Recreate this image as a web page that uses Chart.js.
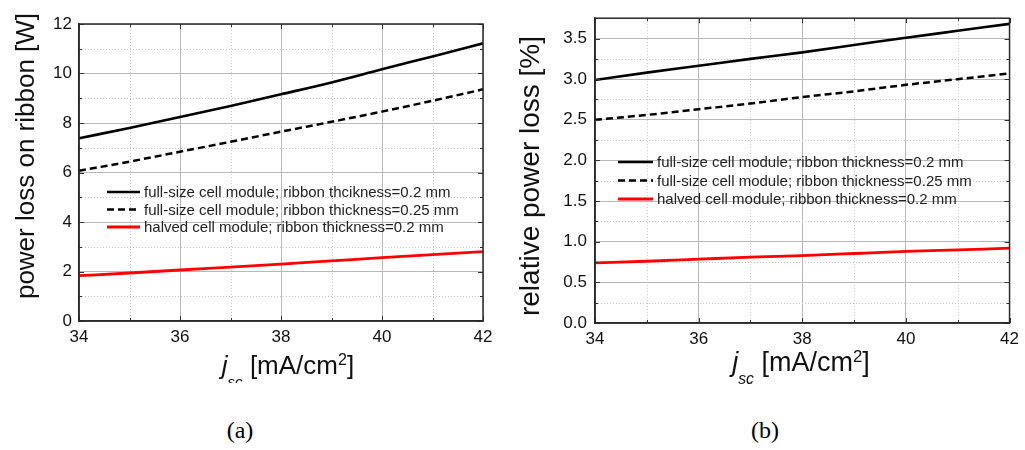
<!DOCTYPE html>
<html>
<head>
<meta charset="utf-8">
<script src="https://cdn.jsdelivr.net/npm/chart.js@4.4.0/dist/chart.umd.min.js"></script>
<style>
  html, body { margin: 0; padding: 0; background: #fff; }
  body { width: 1025px; height: 450px; position: relative; overflow: hidden; font-family: "Liberation Sans", Arial, sans-serif; }
  canvas { position: absolute; top: 0; }
  #cA { left: 0; }
  #cB { left: 500px; }
  .ytitle { position: absolute; width: 400px; text-align: center; white-space: nowrap; color: #111; transform: rotate(-90deg); }
  .xtitle { position: absolute; width: 300px; text-align: center; white-space: nowrap; color: #111; }
  .xtitle sub { font-size: 58%; line-height: 0; vertical-align: -0.85em; }
  .xtitle sup { font-size: 62%; line-height: 0; vertical-align: 0.55em; }
  .cap { position: absolute; width: 100px; text-align: center; font-family: "Liberation Serif", "Times New Roman", serif; color: #000; }
</style>
</head>
<body>
<canvas id="cA" width="500" height="390"></canvas>
<canvas id="cB" width="525" height="390"></canvas>

<div class="ytitle" style="left:-175px; top:141px; height:30px; line-height:30px; font-size:26px;">power loss on ribbon [W]</div>
<div class="ytitle" style="left:330px; top:161px; height:30px; line-height:30px; font-size:28px;">relative power loss [%]</div>

<div style="position:absolute; left:138px; top:340px; width:300px; height:43px; overflow:hidden;">
  <div class="xtitle" style="left:0; top:12px; font-size:26px; line-height:26px;"><i>j</i><sub><i>sc</i></sub> [mA/cm<sup>2</sup>]</div>
</div>
<div class="xtitle" style="left:651px; top:349px; font-size:27px; line-height:27px;"><i>j</i><sub><i>sc</i></sub> [mA/cm<sup>2</sup>]</div>

<div class="cap" style="left:190px; top:418px; font-size:24px; line-height:24px;">(a)</div>
<div class="cap" style="left:715px; top:418px; font-size:24px; line-height:24px;">(b)</div>

<script>
// ---- data ----
const jsc = [34, 35, 36, 37, 38, 39, 40, 41, 42];

const lossFull02   = [7.38, 7.80, 8.24, 8.69, 9.16, 9.64, 10.17, 10.69, 11.22];
const lossFull025  = [6.07, 6.44, 6.84, 7.24, 7.65, 8.05, 8.46, 8.90, 9.36];
const lossHalved02 = [1.83, 1.94, 2.06, 2.18, 2.30, 2.43, 2.56, 2.68, 2.80];

const relFull02    = [2.99, 3.08, 3.165, 3.25, 3.33, 3.42, 3.51, 3.595, 3.68];
const relFull025   = [2.50, 2.56, 2.63, 2.70, 2.78, 2.85, 2.93, 3.00, 3.07];
const relHalved02  = [0.74, 0.76, 0.785, 0.81, 0.83, 0.855, 0.88, 0.90, 0.92];

const labelsA = [
  'full-size cell module; ribbon thcikness=0.2 mm',
  'full-size cell module; ribbon thickness=0.25 mm',
  'halved cell module; ribbon thickness=0.2 mm'
];
const labelsB = [
  'full-size cell module; ribbon thickness=0.2 mm',
  'full-size cell module; ribbon thickness=0.25 mm',
  'halved cell module; ribbon thickness=0.2 mm'
];

const xTicksMajor = [34, 36, 38, 40, 42];
const yTicksMajorA = [0, 2, 4, 6, 8, 10, 12];
const yTicksMajorB = [0.0, 0.5, 1.0, 1.5, 2.0, 2.5, 3.0, 3.5];

// ---- helpers ----
const pts = (arr) => jsc.map((x, i) => ({ x: x, y: arr[i] }));
const near = (v, list) => list.some(m => Math.abs(m - v) < 1e-6);
const FONT = '"Liberation Sans", Arial, sans-serif';

const framePlugin = {
  id: 'frame',
  beforeDatasetsDraw(chart, args, opts) {
    // dotted minor grid
    const { ctx, chartArea: a, scales } = chart;
    ctx.save();
    ctx.strokeStyle = '#c4c4c4';
    ctx.lineWidth = 1;
    ctx.setLineDash([1, 2]);
    ctx.beginPath();
    scales.x.ticks.forEach(t => {
      if (near(t.value, opts.xMajor)) return;
      const px = Math.round(scales.x.getPixelForValue(t.value)) + 0.5;
      ctx.moveTo(px, a.top); ctx.lineTo(px, a.bottom);
    });
    scales.y.ticks.forEach(t => {
      if (near(t.value, opts.yMajor)) return;
      const py = Math.round(scales.y.getPixelForValue(t.value)) + 0.5;
      ctx.moveTo(a.left, py); ctx.lineTo(a.right, py);
    });
    ctx.stroke();
    ctx.restore();
  },
  afterDatasetsDraw(chart, args, opts) {
    const { ctx, chartArea: a, scales } = chart;
    ctx.save();
    ctx.strokeStyle = '#333';
    ctx.lineWidth = 1;
    ctx.beginPath();
    scales.x.ticks.forEach(t => {
      const px = Math.round(scales.x.getPixelForValue(t.value)) + 0.5;
      const len = near(t.value, opts.xMajor) ? 5 : 3;
      ctx.moveTo(px, a.bottom); ctx.lineTo(px, a.bottom - len);
      ctx.moveTo(px, a.top); ctx.lineTo(px, a.top + len);
    });
    scales.y.ticks.forEach(t => {
      const py = Math.round(scales.y.getPixelForValue(t.value)) + 0.5;
      const len = near(t.value, opts.yMajor) ? 5 : 3;
      ctx.moveTo(a.left, py); ctx.lineTo(a.left + len, py);
      ctx.moveTo(a.right, py); ctx.lineTo(a.right - len, py);
    });
    ctx.stroke();
    ctx.lineWidth = 1.5;
    ctx.strokeStyle = '#2a2a2a';
    ctx.strokeRect(a.left, a.top, a.width, a.height);
    ctx.restore();
  },
  afterDraw(chart, args, opts) {
    const { ctx } = chart;
    const L = opts.legend;
    ctx.save();
    ctx.font = L.fontSize + 'px ' + FONT;
    ctx.textBaseline = 'middle';
    ctx.textAlign = 'left';
    chart.data.datasets.forEach((ds, i) => {
      const y = L.y0 + i * L.rowH;
      ctx.beginPath();
      ctx.strokeStyle = ds.borderColor;
      ctx.lineWidth = ds.borderWidth;
      ctx.setLineDash(ds.borderDash || []);
      ctx.moveTo(L.x1, y); ctx.lineTo(L.x2, y);
      ctx.stroke();
      ctx.setLineDash([]);
      ctx.fillStyle = '#222';
      ctx.fillText(ds.label, L.tx, y + 1);
    });
    ctx.restore();
  }
};

function makeChart(id, series, labels, cfg) {
  const styles = [
    { borderColor: '#000', borderWidth: 2.6, borderDash: [] },
    { borderColor: '#000', borderWidth: 2.5, borderDash: [7, 4] },
    { borderColor: '#ff0000', borderWidth: 2.8, borderDash: [] }
  ];
  return new Chart(document.getElementById(id), {
    type: 'line',
    data: {
      datasets: series.map((s, i) => Object.assign({
        label: labels[i],
        data: pts(s),
        pointRadius: 0,
        tension: 0.3,
        cubicInterpolationMode: 'monotone',
        fill: false
      }, styles[i]))
    },
    options: {
      responsive: false,
      animation: false,
      devicePixelRatio: 1,
      layout: { padding: cfg.padding },
      plugins: {
        legend: { display: false },
        tooltip: { enabled: false },
        frame: { xMajor: xTicksMajor, yMajor: cfg.yMajor, legend: cfg.legend }
      },
      scales: {
        x: {
          type: 'linear',
          min: 34, max: 42,
          afterFit: s => { s.height = cfg.xHeight; },
          ticks: {
            stepSize: 1,
            autoSkip: false,
            maxRotation: 0,
            padding: 6,
            color: '#111',
            font: { family: FONT, size: 17 },
            callback: v => near(v, xTicksMajor) ? String(v) : ''
          },
          grid: {
            drawTicks: false,
            color: c => (c.tick && near(c.tick.value, xTicksMajor)) ? '#b8b8b8' : 'rgba(0,0,0,0)',
            lineWidth: 1
          },
          border: { display: true, color: '#2a2a2a', width: 1.5 }
        },
        y: {
          type: 'linear',
          min: cfg.yMin, max: cfg.yMax,
          afterFit: s => { s.width = cfg.yWidth; },
          ticks: {
            stepSize: cfg.yStep,
            autoSkip: false,
            padding: cfg.yPad,
            color: '#111',
            font: { family: FONT, size: 17 },
            callback: v => near(v, cfg.yMajor) ? cfg.fmt(v) : ''
          },
          grid: {
            drawTicks: false,
            color: c => (c.tick && near(c.tick.value, cfg.yMajor)) ? '#b8b8b8' : 'rgba(0,0,0,0)',
            lineWidth: 1
          },
          border: { display: true, color: '#2a2a2a', width: 1.5 }
        }
      }
    },
    plugins: [framePlugin]
  });
}

makeChart('cA', [lossFull02, lossFull025, lossHalved02], labelsA, {
  padding: { left: 0, top: 24, right: 17, bottom: 0 },
  xHeight: 69, yWidth: 79, yPad: 7,
  yMin: 0, yMax: 12, yStep: 1, yMajor: yTicksMajorA,
  fmt: v => String(v),
  legend: { x1: 107, x2: 140, tx: 144, y0: 192, rowH: 17.5, fontSize: 15 }
});

makeChart('cB', [relFull02, relFull025, relHalved02], labelsB, {
  padding: { left: 0, top: 15, right: 13, bottom: 0 },
  xHeight: 67, yWidth: 95, yPad: 8,
  yMin: 0, yMax: 3.75, yStep: 0.25, yMajor: yTicksMajorB,
  fmt: v => v.toFixed(1),
  legend: { x1: 118, x2: 153, tx: 157, y0: 162, rowH: 18.5, fontSize: 15 }
});
</script>
</body>
</html>
